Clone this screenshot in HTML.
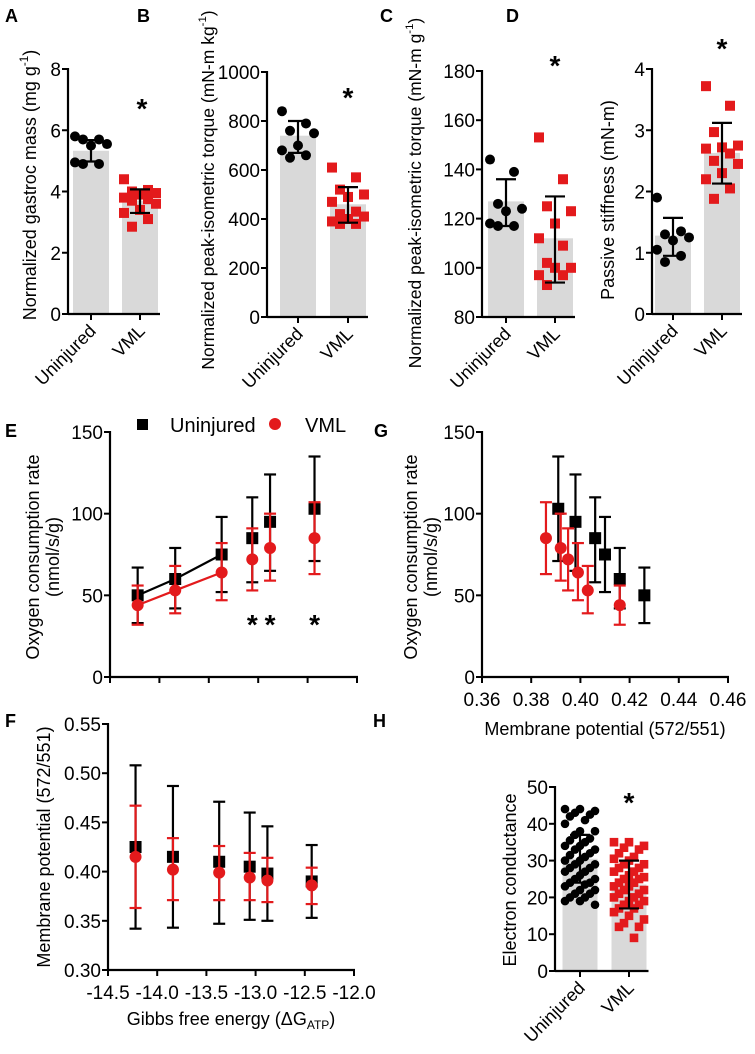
<!DOCTYPE html>
<html><head><meta charset="utf-8"><style>
body{margin:0;background:#fff}
svg{display:block;font-family:"Liberation Sans",Arial,sans-serif}
</style></head><body>
<svg id="fig" width="755" height="1054" viewBox="0 0 755 1054"></svg>
<script>
// ---------- Data ----------
const catLabels = ["Uninjured","VML"];
const aUninj = [5.8,5.7,5.7,5.55,5.5,4.95,4.9,4.9];
const aVml = [4.4,4.05,4.0,3.95,3.9,3.8,3.75,3.7,3.6,3.4,3.3,3.1,2.85];
const aMean = [5.33,3.7], aHi=[5.68,4.07], aLo=[4.98,3.3];
const bUninj = [840,790,760,750,700,680,660,650];
const bVml = [610,570,520,500,490,470,430,420,410,400,390,380,380];
const bMean = [740,460], bHi=[800,530], bLo=[670,385];
const cUninj = [144,139,126,124,123,118,117,117];
const cVml = [153,136,125,123,118,112,109,102,100,100,97,97,93];
const cMean = [127,112], cHi=[136,129], cLo=[117,94];
const dUninj = [1.9,1.35,1.3,1.25,1.2,1.05,0.95,0.85];
const dVml = [3.72,3.4,2.97,2.75,2.72,2.7,2.62,2.5,2.45,2.3,2.2,2.05,1.88];
const dMean = [1.28,2.63], dHi=[1.57,3.12], dLo=[0.95,2.13];
const hUninj = [44,44,43.5,43,42.5,42,41,40,38,38,37,36,35.5,35,34,34,33,33,32,31.5,31,30,30,29,29,28,28,27,27,26,25,25,24,24,23.5,23,22,22,21,21,20,20,19,19,18];
const hVml = [35,35,34,33.5,33,32,31,30.5,30,29,29,28,28,27,27,26,25.5,25,25,24,24,23,23,22,22,21,21,20,20,19,19,18,18,17,17,16,15,14,13,12,12,9];
const hMean = [30.5,23.5], hHi=[37,30], hLo=[24,17];
const gibbs = [-14.22,-13.84,-13.37,-13.06,-12.88,-12.43];
const ocrU = [50,60,75,85,95,103], ocrUHi=[67,79,98,110,124,135], ocrULo=[33,42,52,58,65,71];
const ocrV = [44,53,64,72,79,85], ocrVHi=[56,68,82,91,100,107], ocrVLo=[32,39,47,53,59,63];
const mpU = [0.425,0.415,0.41,0.405,0.398,0.39], mpUHi=[0.508,0.487,0.471,0.46,0.446,0.427], mpULo=[0.342,0.343,0.347,0.351,0.35,0.353];
const mpV = [0.415,0.402,0.399,0.394,0.391,0.386], mpVHi=[0.467,0.434,0.426,0.419,0.414,0.404], mpVLo=[0.363,0.371,0.371,0.371,0.369,0.367];
const gMpU = [0.426,0.416,0.410,0.406,0.398,0.391];
const gMpV = [0.416,0.403,0.399,0.395,0.392,0.386];
const ticksE = [0,50,100,150];
const ticksF = [0.30,0.35,0.40,0.45,0.50,0.55];
const ticksFx = [-14.5,-14.0,-13.5,-13.0,-12.5,-12.0];
const ticksGx = [0.36,0.38,0.40,0.42,0.44,0.46];

const NS="http://www.w3.org/2000/svg";
const svg=document.getElementById('fig');
const RED="#e31a1c";
const TF=19;
function mk(tag,a,p){const e=document.createElementNS(NS,tag);for(const k in a)e.setAttribute(k,a[k]);(p||svg).appendChild(e);return e;}
function lin(d0,d1,r0,r1){return v=>r0+(v-d0)/(d1-d0)*(r1-r0);}
function txt(x,y,s,size,anchor,p,extra){const t=mk('text',Object.assign({x:x,y:y,'font-size':size,'text-anchor':anchor||'middle',fill:'#000'},extra||{}),p);t.textContent=s;return t;}

function yAxis(g,x,y,ticks,fmt,size){
  const a=mk('line',{x1:x,x2:x,y1:y(ticks[ticks.length-1])-1,y2:y(ticks[0])+1,stroke:'#000','stroke-width':2.2},g);
  
  
  ticks.forEach(v=>{
    mk('line',{x1:x-6,x2:x,y1:y(v),y2:y(v),stroke:'#000','stroke-width':2},g);
    const t=txt(x-7,y(v)+7,fmt(v),size,'end',g);
    
    
  });
}
function marker(g,kind,cx,cy,s,color){
  let m;
  if(kind==='sq') m=mk('rect',{x:cx-s,y:cy-s,width:2*s,height:2*s,fill:color},g);
  else m=mk('circle',{cx:cx,cy:cy,r:s,fill:color},g);
  
  
  return m;
}
function errBar(g,cx,yh,yl,color,cap){
  const e=mk('g',{},g);
  
  
  mk('line',{x1:cx,x2:cx,y1:yh,y2:yl,stroke:color,'stroke-width':2.2},e);
  mk('line',{x1:cx-cap,x2:cx+cap,y1:yh,y2:yh,stroke:color,'stroke-width':2.2},e);
  mk('line',{x1:cx-cap,x2:cx+cap,y1:yl,y2:yl,stroke:color,'stroke-width':2.2},e);
}
function rotLabel(g,x,y,parts,size){
  const t=mk('text',{x:0,y:0,'font-size':size,'text-anchor':'middle',transform:`translate(${x},${y}) rotate(-90)`,fill:'#000'},g);
  parts.forEach(p=>{const s=mk('tspan',p.sup?{'font-size':size*0.65,dy:-8}:(p.down?{dy:8}:{}),t);s.textContent=p.t;});
  
  
  return t;
}
function panelLetter(x,y,s){const t=txt(x,y,s,18,'start',svg,{'font-weight':'bold'});}

function barPanel(cfg){
  const g=mk('g',{});
  
  
  const y=lin(cfg.min,cfg.max,cfg.yBot,cfg.yTop);
  const groups=[cfg.u,cfg.v];
  cfg.xs.forEach((cx,i)=>{
    const b=mk('rect',{x:cx-cfg.bw/2,y:y(cfg.mean[i]),width:cfg.bw,height:y(cfg.min)-y(cfg.mean[i]),fill:'#d9d9d9'},g);
    
    
  });
  groups.forEach((arr,gi)=>{
    const cx=cfg.xs[gi];
    const sp=cfg.spread||5;
    arr.forEach((v,i)=>{
      const off=(((i*3)%sp)-(sp-1)/2)*cfg.jit;
      marker(g,gi?'sq':'c',cx+off,y(v),cfg.ms,gi?RED:'#000');
    });
  });
  cfg.xs.forEach((cx,i)=>errBar(g,cx,y(cfg.hi[i]),y(cfg.lo[i]),'#000',cfg.cap));
  yAxis(g,cfg.ax,y,cfg.ticks,cfg.fmt||(v=>String(v)),TF);
  const xa=mk('line',{x1:cfg.ax,x2:cfg.xs[1]+cfg.bw/2+2,y1:cfg.yBot,y2:cfg.yBot,stroke:'#000','stroke-width':2.2},g);
  
  
  cfg.xs.forEach((cx,i)=>{
    mk('line',{x1:cx,x2:cx,y1:cfg.yBot,y2:cfg.yBot+6,stroke:'#000','stroke-width':2},g);
    const t=mk('text',{x:0,y:0,'font-size':18,'text-anchor':'end',transform:`translate(${cx+6},${cfg.yBot+18}) rotate(-45)`},g);
    t.textContent=catLabels[i];
    
    
  });
  const st=txt(cfg.star[0],cfg.star[1],'*',28,'middle',g,{'font-weight':'bold'});
  
  
  rotLabel(g,cfg.lx,cfg.ly,cfg.label,cfg.lfs||18);
}

panelLetter(5,22,'A');panelLetter(137,22,'B');panelLetter(380,22,'C');panelLetter(506,22,'D');
barPanel({name:'panel-a-gastroc-mass',ax:68,yTop:69,yBot:314,min:0,max:8,ticks:[0,2,4,6,8],xs:[91,140],bw:36,u:aUninj,v:aVml,mean:aMean,hi:aHi,lo:aLo,ms:5,jit:8,cap:10,star:[142,118],lx:36,ly:185,label:[{t:'Normalized gastroc mass (mg g'},{t:'-1',sup:1},{t:')',down:1}]});
barPanel({name:'panel-b-peak-torque',ax:267,yTop:72,yBot:317,min:0,max:1000,ticks:[0,200,400,600,800,1000],xs:[298,348],bw:36,u:bUninj,v:bVml,mean:bMean,hi:bHi,lo:bLo,ms:5,jit:8,cap:10,star:[348,107],lx:214,ly:190,label:[{t:'Normalized peak-isometric torque (mN-m kg'},{t:'-1',sup:1},{t:')',down:1}],lfs:17.5});
barPanel({name:'panel-c-peak-torque-g',ax:482,yTop:71,yBot:317,min:80,max:180,ticks:[80,100,120,140,160,180],xs:[506,555],bw:36,u:cUninj,v:cVml,mean:cMean,hi:cHi,lo:cLo,ms:5,jit:8,cap:10,star:[555,75],lx:421,ly:193,label:[{t:'Normalized peak-isometric torque (mN-m g'},{t:'-1',sup:1},{t:')',down:1}],lfs:17.5});
barPanel({name:'panel-d-passive-stiffness',ax:652,yTop:69,yBot:314,min:0,max:4,ticks:[0,1,2,3,4],xs:[673,722],bw:36,u:dUninj,v:dVml,mean:dMean,hi:dHi,lo:dLo,ms:5,jit:8,cap:10,star:[722,58],lx:614,ly:200,label:[{t:'Passive stiffness (mN-m)'}]});
panelLetter(373,727,'H');
barPanel({name:'panel-h-electron-conductance',ax:555,yTop:787,yBot:971,min:0,max:50,ticks:[0,10,20,30,40,50],xs:[580,629],bw:35,u:hUninj,v:hVml,mean:hMean,hi:hHi,lo:hLo,ms:4.3,jit:5,spread:7,cap:10,star:[629,812],lx:516,ly:880,label:[{t:'Electron conductance'}]});

function linePanel(cfg){
  const g=mk('g',{});
  
  
  const x=lin(cfg.xd[0],cfg.xd[1],cfg.ax,cfg.xEnd);
  const y=lin(cfg.yd[0],cfg.yd[1],cfg.yBot,cfg.yTop);
  const xa=mk('line',{x1:cfg.ax-1,x2:cfg.xEnd+1,y1:cfg.yBot,y2:cfg.yBot,stroke:'#000','stroke-width':2.2},g);
  
  
  cfg.xt.forEach(v=>{
    mk('line',{x1:x(v),x2:x(v),y1:cfg.yBot,y2:cfg.yBot+6,stroke:'#000','stroke-width':2},g);
    if(cfg.xfmt){const t=txt(x(v),cfg.yBot+29,cfg.xfmt(v),TF,'middle',g);}
  });
  yAxis(g,cfg.ax,y,cfg.yt,cfg.yfmt,TF);
  const S=cfg.series;
  S.forEach(s=>{
    if(s.lineN){const pts=s.xs.slice(0,s.lineN).map((xv,i)=>x(xv)+','+y(s.v[i])).join(' ');
      const l=mk('polyline',{points:pts,fill:'none',stroke:s.color,'stroke-width':2.2},g);
      
      }
  });
  S.forEach(s=>{
    s.v.forEach((v,i)=>{errBar(g,x(s.xs[i]),y(s.hi[i]),y(s.lo[i]),s.color,6);});
    s.v.forEach((v,i)=>marker(g,s.kind,x(s.xs[i]),y(v),6,s.color));
  });
  return {g,x,y};
}

panelLetter(5,437,'E');
const E=linePanel({name:'panel-e-ocr-vs-gibbs',ax:110,xEnd:357,yTop:432,yBot:677,xd:[-14.5,-12.0],yd:[0,150],xt:ticksFx,yt:ticksE,yfmt:v=>String(v),
  series:[{xs:gibbs,v:ocrU,hi:ocrUHi,lo:ocrULo,color:'#000',kind:'sq',lineN:3},{xs:gibbs,v:ocrV,hi:ocrVHi,lo:ocrVLo,color:RED,kind:'c',lineN:3}]});
[3,4,5].forEach(i=>{const s=txt(E.x(gibbs[i]),634,'*',28,'middle',E.g,{'font-weight':'bold'});});
const lg=mk('g',{});


mk('rect',{x:137,y:419,width:11,height:11,fill:'#000'},lg);
const l1=txt(170,432,'Uninjured',20,'start',lg);
mk('circle',{cx:275,cy:424,r:6,fill:RED},lg);
const l2=txt(305,432,'VML',20,'start',lg);
rotLabel(E.g,39,557,[{t:'Oxygen consumption rate'}],18);
rotLabel(E.g,59,557,[{t:'(nmol/s/g)'}],18);

panelLetter(374,437,'G');
const G=linePanel({name:'panel-g-ocr-vs-membrane-potential',ax:482,xEnd:728,yTop:432,yBot:677,xd:[0.36,0.46],yd:[0,150],xt:ticksGx,xfmt:v=>v.toFixed(2),yt:ticksE,yfmt:v=>String(v),
  series:[{xs:gMpU,v:ocrU,hi:ocrUHi,lo:ocrULo,color:'#000',kind:'sq'},{xs:gMpV,v:ocrV,hi:ocrVHi,lo:ocrVLo,color:RED,kind:'c'}]});
rotLabel(G.g,417,557,[{t:'Oxygen consumption rate'}],18);
rotLabel(G.g,437,557,[{t:'(nmol/s/g)'}],18);
const gx=txt(605,735,'Membrane potential (572/551)',18,'middle',G.g);

panelLetter(5,727,'F');
const F=linePanel({name:'panel-f-mp-vs-gibbs',ax:108,xEnd:354,yTop:724,yBot:970,xd:[-14.5,-12.0],yd:[0.30,0.55],xt:ticksFx,xfmt:v=>v.toFixed(1),yt:ticksF,yfmt:v=>v.toFixed(2),
  series:[{xs:gibbs,v:mpU,hi:mpUHi,lo:mpULo,color:'#000',kind:'sq'},{xs:gibbs,v:mpV,hi:mpVHi,lo:mpVLo,color:RED,kind:'c'}]});
rotLabel(F.g,50,847,[{t:'Membrane potential (572/551)'}],18);
const fx=mk('text',{x:231,y:1025,'font-size':18,'text-anchor':'middle'},F.g);


const f1=mk('tspan',{},fx);f1.textContent='Gibbs free energy (\u0394G';
const f2=mk('tspan',{'font-size':12,dy:4},fx);f2.textContent='ATP';
const f3=mk('tspan',{dy:-4},fx);f3.textContent=')';
</script>
</body></html>
